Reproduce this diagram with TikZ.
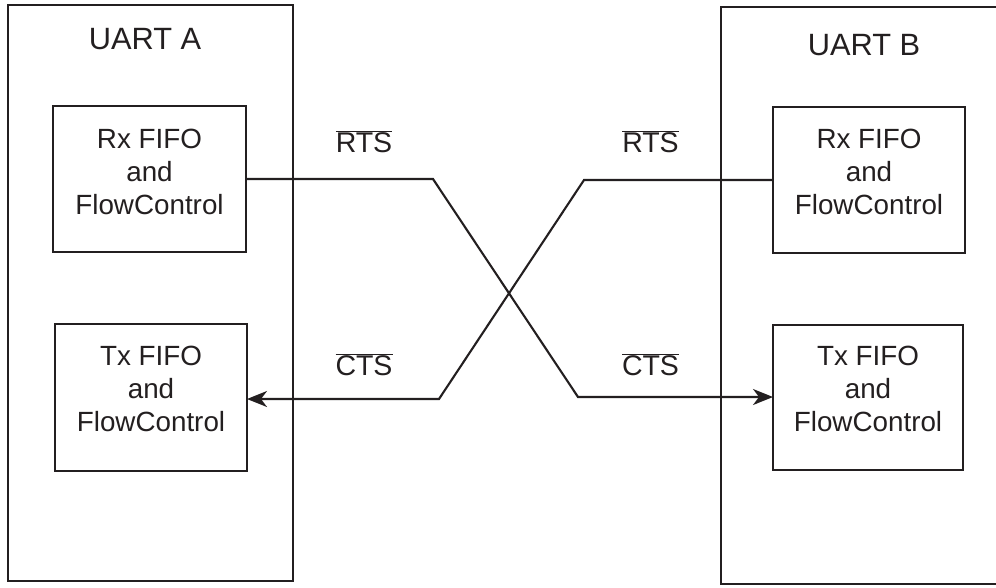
\documentclass[tikz,border=0pt]{standalone}
\usepackage{fontspec}
\setmainfont{Liberation Sans}
\usetikzlibrary{arrows.meta}
\definecolor{ink}{RGB}{35,31,32}
\tikzset{
  blk/.style={draw=ink, line width=2.1pt, rectangle, inner sep=0pt, outer sep=0pt},
  boxtext/.style={inner sep=0pt, align=center, text=ink, font=\fontsize{27.8}{33}\selectfont},
  title/.style={inner sep=0pt, text=ink, font=\fontsize{30.8}{36}\selectfont},
  sig/.style={inner sep=0pt, anchor=base, text=ink, font=\fontsize{28.5}{34}\selectfont},
  wire/.style={draw=ink, line width=2.1pt, line join=miter},
  arr/.style={wire, -{Stealth[length=20pt, width=16pt, inset=6pt]}}
}
\newcommand{\ovl}[1]{$\overline{\mbox{#1}}$}
\begin{document}
\begin{tikzpicture}[x=1pt, y=-1pt]
\useasboundingbox (0,0) rectangle (996,587);
\begin{scope}
\clip (0,0) rectangle (996,587);
% outer UART boxes
\node[blk, minimum width=285pt, minimum height=576pt] (boxA) at (150.5,293) {};
\node[blk, minimum width=279pt, minimum height=577pt] (boxB) at (860.5,295.5) {};
\end{scope}
\node[title] (titleA) at (145,39.5) {UART A};
\node[title] (titleB) at (864,45.5) {UART B};
% inner boxes
\node[blk, minimum width=193pt, minimum height=146pt] (rxA) at (149.5,179) {};
\node[blk, minimum width=192pt, minimum height=147pt] (txA) at (151,397.5) {};
\node[blk, minimum width=192pt, minimum height=146pt] (rxB) at (869,180) {};
\node[blk, minimum width=190pt, minimum height=145pt] (txB) at (868,397.5) {};
\node[boxtext] (rxAt) at ([yshift=7.5pt]rxA.center) {Rx FIFO\\and\\FlowControl};
\node[boxtext] (txAt) at ([yshift=8.5pt]txA.center) {Tx FIFO\\and\\FlowControl};
\node[boxtext] (rxBt) at ([yshift=8pt]rxB.center) {Rx FIFO\\and\\FlowControl};
\node[boxtext] (txBt) at ([yshift=8.5pt]txB.center) {Tx FIFO\\and\\FlowControl};
% signal labels
\node[sig] (rtsA) at (364,152) {\ovl{RTS}};
\node[sig] (rtsB) at (650.5,152) {\ovl{RTS}};
\node[sig] (ctsA) at (364,375) {\ovl{CTS}};
\node[sig] (ctsB) at (650.5,375) {\ovl{CTS}};
% crossing connectors
\coordinate (a1) at (433,179);
\coordinate (a2) at (578,397);
\coordinate (b1) at (584,180);
\coordinate (b2) at (439,399);
\draw[arr] (rxA.east) -- (a1) -- (a2) -- (a2 -| txB.west);
\draw[arr] (rxB.west) -- (b1) -- (b2) -- (b2 -| txA.east);
\end{tikzpicture}
\end{document}
